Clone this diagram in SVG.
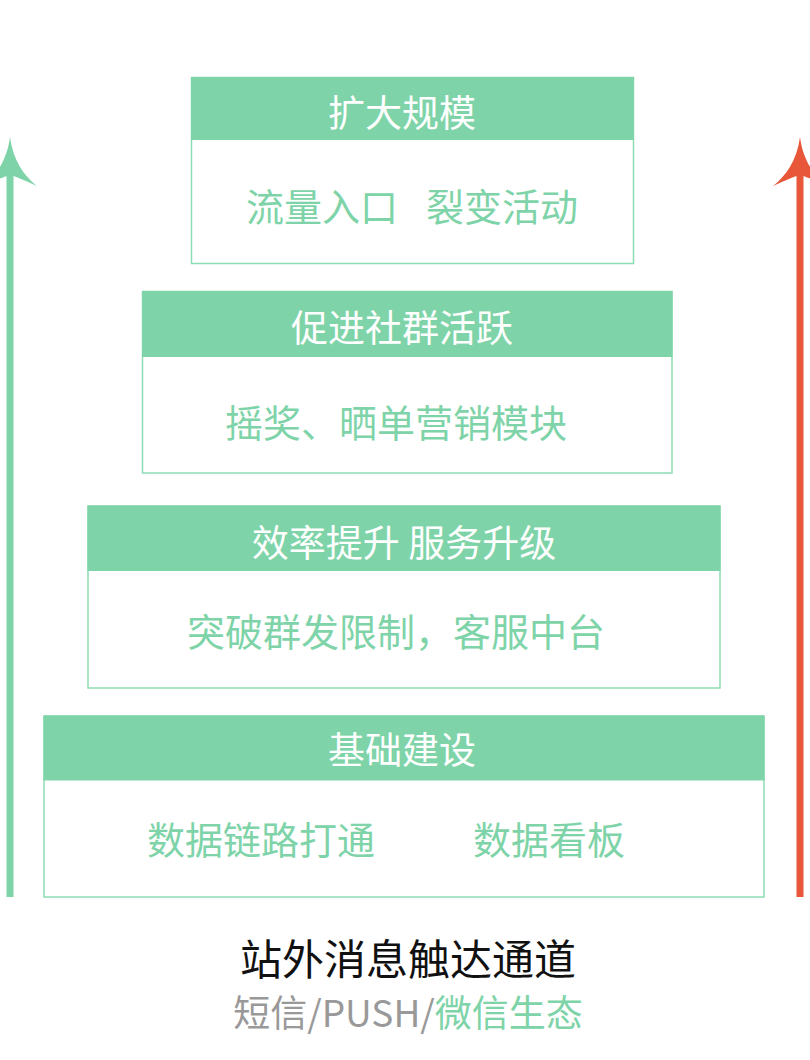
<svg xmlns="http://www.w3.org/2000/svg" width="810" height="1060" viewBox="0 0 810 1060">
<style>
.box{fill:#fff;stroke:#8edcb4;stroke-width:1.5}
.hdr{fill:#7ed4a8}
.ht{font-family:"Noto Sans CJK SC","Noto Sans",sans-serif;font-size:37px;fill:#fff;text-anchor:middle}
.bt{font-family:"Noto Sans CJK SC","Noto Sans",sans-serif;font-size:38px;fill:#7ed4a8;text-anchor:middle}
</style>
<rect width="810" height="1060" fill="#fff"/>
<g id="connectors">
<path id="arrow-left" fill="#7ed4a8" d="M10 137 C13 160 24 176 37 186 C28 182 19 178 13.5 176 L13.5 897 L6.5 897 L6.5 176 C1 178 -8 182 -17 186 C-4 176 7 160 10 137 Z"/>
<path id="arrow-right" fill="#e8573a" d="M800 137 C803 160 814 176 827 186 C818 182 809 178 803.5 176 L803.5 897 L796.5 897 L796.5 176 C791 178 782 182 773 186 C786 176 797 160 800 137 Z"/>
</g>
<g id="node-1">
<rect class="box" x="191.5" y="77.5" width="442" height="186"/>
<rect class="hdr" x="191" y="77" width="443" height="63"/>
<text class="ht" x="402" y="127">扩大规模</text>
<text class="bt" x="322" y="221">流量入口</text>
<text class="bt" x="502" y="221">裂变活动</text>
</g>
<g id="node-2">
<rect class="box" x="142.5" y="291.5" width="529.5" height="181.5"/>
<rect class="hdr" x="142" y="291" width="530.5" height="66"/>
<text class="ht" x="402" y="342">促进社群活跃</text>
<text class="bt" x="396" y="437">摇奖、晒单营销模块</text>
</g>
<g id="node-3">
<rect class="box" x="88" y="506" width="632" height="182"/>
<rect class="hdr" x="87.5" y="505.5" width="633" height="65.5"/>
<text class="ht" x="404" y="557">效率提升 服务升级</text>
<text class="bt" x="396" y="646">突破群发限制，客服中台</text>
</g>
<g id="node-4">
<rect class="box" x="44" y="716" width="720" height="181"/>
<rect class="hdr" x="43.5" y="715.5" width="721" height="65"/>
<text class="ht" x="402" y="764">基础建设</text>
<text class="bt" x="261" y="854">数据链路打通</text>
<text class="bt" x="549" y="854">数据看板</text>
</g>
<g id="footer">
<text x="408" y="975" font-family="Noto Sans CJK SC,Noto Sans,sans-serif" font-size="42" fill="#111" text-anchor="middle">站外消息触达通道</text>
<text x="408" y="1027" font-family="Noto Sans CJK SC,Noto Sans,sans-serif" font-size="37" text-anchor="middle"><tspan fill="#999">短信/PUSH/</tspan><tspan fill="#7ed4a8">微信生态</tspan></text>
</g>
</svg>
